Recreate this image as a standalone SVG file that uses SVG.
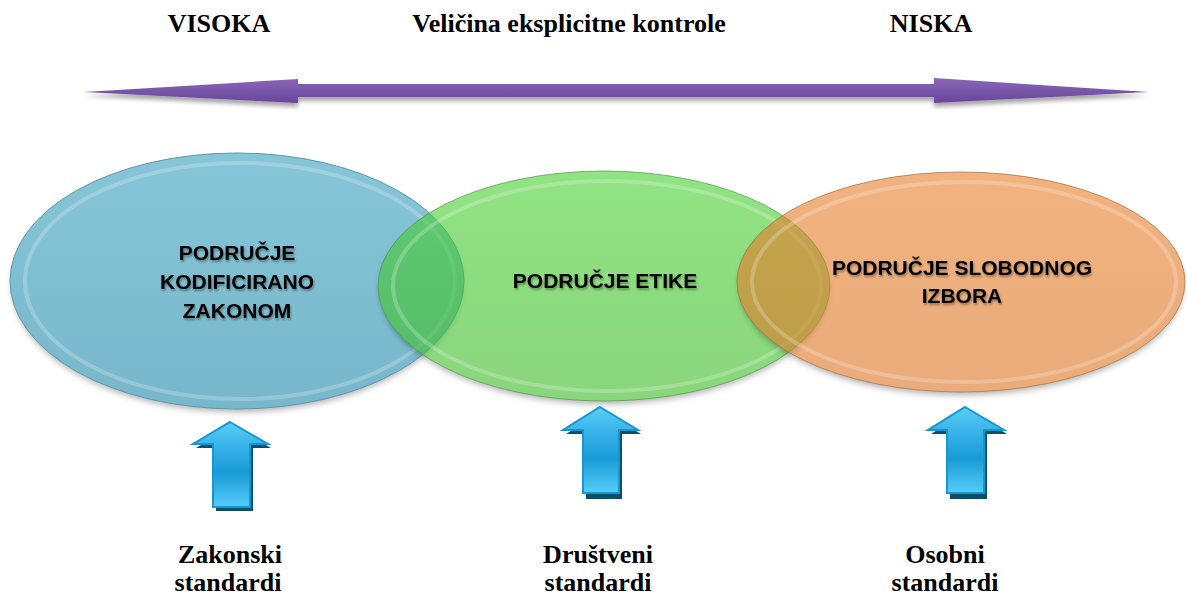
<svg xmlns="http://www.w3.org/2000/svg" width="1187" height="597" viewBox="0 0 1187 597">
<style>
.serif{font-family:"Liberation Serif","Times New Roman",serif;font-weight:bold;font-size:26px;fill:#000;text-anchor:middle}
.inner{font-family:"Liberation Sans",Arial,sans-serif;font-weight:bold;font-size:21px;fill:#000;text-anchor:middle;filter:url(#tshadow)}
.rim{fill:none;stroke:#ffffff;stroke-opacity:0.22;stroke-width:4}
.up{stroke:#1597cf;stroke-width:2;fill:url(#upGrad);stroke-linejoin:miter}
.upsh{fill:#0c4d68}
</style>
<defs>
<linearGradient id="axisGrad" x1="0" y1="0" x2="0" y2="1">
<stop offset="0" stop-color="#8a66b8"/>
<stop offset="1" stop-color="#66479a"/>
</linearGradient>
<linearGradient id="upGrad" x1="0" y1="0" x2="0" y2="1">
<stop offset="0" stop-color="#5acdf6"/>
<stop offset="0.3" stop-color="#36b2e7"/>
<stop offset="0.6" stop-color="#1a9bd6"/>
<stop offset="1" stop-color="#55cdf8"/>
</linearGradient>
<linearGradient id="blueGrad" x1="0" y1="0" x2="0" y2="1">
<stop offset="0" stop-color="#87c5d8"/>
<stop offset="1" stop-color="#78b7cb"/>
</linearGradient>
<linearGradient id="greenGrad" x1="0" y1="0" x2="0" y2="1">
<stop offset="0" stop-color="#48d030"/>
<stop offset="1" stop-color="#3cba26"/>
</linearGradient>
<linearGradient id="orangeGrad" x1="0" y1="0" x2="0" y2="1">
<stop offset="0" stop-color="#e87f2c"/>
<stop offset="1" stop-color="#dc7422"/>
</linearGradient>
<filter id="blur4" x="-10%" y="-20%" width="120%" height="140%"><feGaussianBlur stdDeviation="3"/></filter>
<filter id="axisShadow" x="-5%" y="-100%" width="110%" height="300%"><feDropShadow dx="0" dy="4" stdDeviation="2" flood-color="#000" flood-opacity="0.35"/></filter>
<filter id="tshadow" x="-10%" y="-40%" width="120%" height="180%"><feDropShadow dx="1" dy="2" stdDeviation="1.2" flood-color="#000" flood-opacity="0.35"/></filter>
<mask id="mBlue"><rect width="1187" height="597" fill="#fff"/><ellipse cx="237" cy="281" rx="227" ry="128" fill="#000"/></mask>
<mask id="mGreen"><rect width="1187" height="597" fill="#fff"/><ellipse cx="604" cy="286" rx="226" ry="115" fill="#000"/></mask>
<mask id="mOrange"><rect width="1187" height="597" fill="#fff"/><ellipse cx="961" cy="282" rx="224" ry="110" fill="#000"/></mask>
</defs>
<rect width="1187" height="597" fill="#ffffff"/>

<g id="label-visoka"><text class="serif" x="219" y="32">VISOKA</text></g>
<g id="label-title"><text class="serif" x="569" y="32">Veličina eksplicitne kontrole</text></g>
<g id="label-niska"><text class="serif" x="931" y="32">NISKA</text></g>

<g id="node-blue">
<ellipse cx="237" cy="285" rx="225" ry="127" fill="#000" opacity="0.3" filter="url(#blur4)" mask="url(#mBlue)"/>
<ellipse cx="237" cy="281" rx="227" ry="128" fill="url(#blueGrad)" stroke="#5e98aa" stroke-width="1"/>
<ellipse class="rim" cx="240" cy="281" rx="215" ry="118"/>
</g>
<g id="node-green">
<ellipse cx="604" cy="290" rx="224" ry="114" fill="#000" opacity="0.3" filter="url(#blur4)" mask="url(#mGreen)"/>
<ellipse cx="604" cy="286" rx="226" ry="115" fill="url(#greenGrad)" fill-opacity="0.6" stroke="#4a9a48" stroke-opacity="0.7" stroke-width="1"/>
<ellipse class="rim" cx="607" cy="286" rx="214" ry="105"/>
</g>
<g id="node-orange">
<ellipse cx="961" cy="286" rx="222" ry="109" fill="#000" opacity="0.3" filter="url(#blur4)" mask="url(#mOrange)"/>
<ellipse cx="961" cy="282" rx="224" ry="110" fill="url(#orangeGrad)" fill-opacity="0.6" stroke="#a07040" stroke-opacity="0.7" stroke-width="1"/>
<ellipse class="rim" cx="964" cy="282" rx="212" ry="100"/>
</g>
<g id="node-blue-text">
<text class="inner" x="237" y="260">PODRUČJE</text>
<text class="inner" x="237" y="289">KODIFICIRANO</text>
<text class="inner" x="237" y="318">ZAKONOM</text>
</g>
<g id="node-green-text"><text class="inner" x="605" y="288">PODRUČJE ETIKE</text></g>
<g id="node-orange-text">
<text class="inner" x="962" y="275">PODRUČJE SLOBODNOG</text>
<text class="inner" x="962" y="303">IZBORA</text>
</g>

<g id="connectors">
<polygon id="axis" points="84,92 298,79 298,84 934,84 934,78 1148,92 934,103 934,97 298,97 298,103" fill="url(#axisGrad)" filter="url(#axisShadow)"/>
<g id="up-1">
<polygon class="upsh" points="233,426 271,448 253,448 253,511 216,511 216,448 196,448"/>
<polygon class="up" points="230,422 268,444 250,444 250,507 213,507 213,444 193,444"/>
</g>
<g id="up-2">
<polygon class="upsh" points="603,411 641,434 622,434 622,499 586,499 586,434 566,434"/>
<polygon class="up" points="600,407 638,430 619,430 619,493 583,493 583,430 563,430"/>
</g>
<g id="up-3">
<polygon class="upsh" points="968,411 1007,434 987,434 987,499 950,499 950,434 931,434"/>
<polygon class="up" points="965,407 1004,430 984,430 984,493 947,493 947,430 928,430"/>
</g>
</g>

<g id="label-zakonski"><text class="serif" x="230" y="563">Zakonski</text><text class="serif" x="228" y="591">standardi</text></g>
<g id="label-drustveni"><text class="serif" x="598" y="563">Društveni</text><text class="serif" x="598" y="591">standardi</text></g>
<g id="label-osobni"><text class="serif" x="945" y="563">Osobni</text><text class="serif" x="945" y="591">standardi</text></g>
</svg>
